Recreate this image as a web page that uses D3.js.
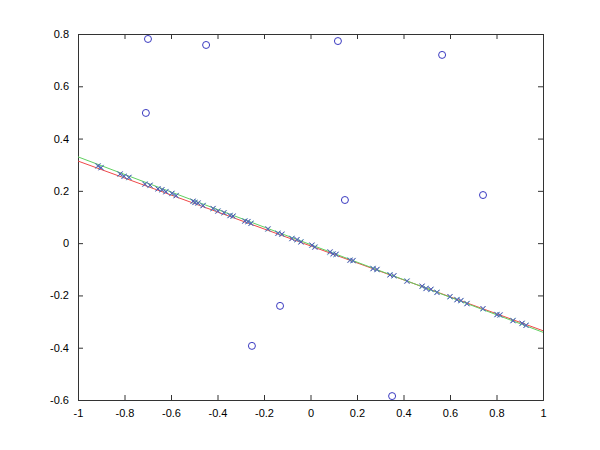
<!DOCTYPE html>
<head>
<meta charset="utf-8">
<script src="https://d3js.org/d3.v7.min.js"></script>
<style>
body { margin: 0; background: #fff; }
.axis text { font-family: "Liberation Sans", Arial, sans-serif; font-size: 11px; fill: #000; }
.axis path, .axis line { stroke: #333; stroke-width: 1; }
</style>
</head>
<body>
<script>
// tick labels
var xTicks = [-1, -0.8, -0.6, -0.4, -0.2, 0, 0.2, 0.4, 0.6, 0.8, 1];
var yTicks = [-0.6, -0.4, -0.2, 0, 0.2, 0.4, 0.6, 0.8];

// outliers (blue circles)
var outX = [-0.699, -0.708, -0.449, 0.118, 0.566, 0.148, 0.742, -0.131, -0.252, 0.351];
var outY = [0.781, 0.498, 0.758, 0.773, 0.720, 0.165, 0.184, -0.240, -0.393, -0.585];

// inliers along the line
var inX = [-0.914, -0.901, -0.819, -0.802, -0.781, -0.712, -0.690, -0.656, -0.639, -0.622,
           -0.596, -0.578, -0.505, -0.497, -0.484, -0.462, -0.419, -0.398, -0.372, -0.346,
           -0.333, -0.282, -0.269, -0.256, -0.183, -0.140, -0.123, -0.080, -0.058, -0.041,
           0.006, 0.019, 0.084, 0.097, 0.110, 0.170, 0.183, 0.269, 0.286, 0.342,
           0.359, 0.415, 0.480, 0.497, 0.518, 0.544, 0.600, 0.630, 0.647, 0.673,
           0.742, 0.802, 0.815, 0.871, 0.910, 0.927];
var inY = [0.296, 0.288, 0.265, 0.255, 0.252, 0.225, 0.222, 0.207, 0.205, 0.196,
           0.191, 0.181, 0.161, 0.155, 0.154, 0.143, 0.133, 0.122, 0.117, 0.105,
           0.104, 0.084, 0.083, 0.075, 0.055, 0.037, 0.035, 0.017, 0.014, 0.004,
           -0.007, -0.016, -0.033, -0.042, -0.042, -0.066, -0.066, -0.098, -0.100, -0.122,
           -0.124, -0.146, -0.164, -0.174, -0.176, -0.189, -0.204, -0.217, -0.219, -0.232,
           -0.250, -0.274, -0.274, -0.297, -0.306, -0.315];
// projected points on the fit
var fitY = [0.294, 0.290, 0.263, 0.257, 0.250, 0.227, 0.220, 0.209, 0.203, 0.198,
            0.189, 0.183, 0.159, 0.157, 0.152, 0.145, 0.131, 0.124, 0.115, 0.107,
            0.102, 0.086, 0.081, 0.077, 0.053, 0.039, 0.033, 0.019, 0.012, 0.006,
            -0.009, -0.014, -0.035, -0.040, -0.044, -0.064, -0.068, -0.096, -0.102, -0.120,
            -0.126, -0.144, -0.166, -0.172, -0.178, -0.187, -0.206, -0.215, -0.221, -0.230,
            -0.252, -0.272, -0.276, -0.295, -0.308, -0.313];

// fitted lines, endpoints at x = -1 and x = 1
var redLine = [[-1, 0.314], [1, -0.335]];
var greenLine = [[-1, 0.330], [1, -0.341]];

var margin = {top: 34, right: 57, bottom: 50, left: 78};
var width = 600 - margin.left - margin.right;
var height = 450 - margin.top - margin.bottom;

var svg = d3.select("body").append("svg")
    .attr("width", 600)
    .attr("height", 450)
    .append("g")
    .attr("transform", "translate(" + margin.left + "," + margin.top + ")");

var x = d3.scaleLinear().domain([-1, 1]).range([0, width]);
var y = d3.scaleLinear().domain([-0.6, 0.8]).range([height, 0]);

var fmt = function(d) { return String(+d.toFixed(1)); };

svg.append("g")
    .attr("class", "axis")
    .attr("transform", "translate(0," + height + ")")
    .call(d3.axisBottom(x).tickValues(xTicks).tickSize(-5).tickPadding(9).tickFormat(fmt));
svg.append("g")
    .attr("class", "axis")
    .call(d3.axisTop(x).tickValues(xTicks).tickSize(-5).tickFormat(""));
svg.append("g")
    .attr("class", "axis")
    .call(d3.axisLeft(y).tickValues(yTicks).tickSize(-5).tickPadding(9).tickFormat(fmt));
svg.append("g")
    .attr("class", "axis")
    .attr("transform", "translate(" + width + ",0)")
    .call(d3.axisRight(y).tickValues(yTicks).tickSize(-5).tickFormat(""));

var line = d3.line()
    .x(function(d) { return x(d[0]); })
    .y(function(d) { return y(d[1]); });

svg.append("path").datum(redLine)
    .attr("d", line).attr("fill", "none").attr("stroke", "#f04848").attr("stroke-width", 1);
svg.append("path").datum(greenLine)
    .attr("d", line).attr("fill", "none").attr("stroke", "#60d060").attr("stroke-width", 1);

function cross(sel, color) {
    sel.append("path")
        .attr("d", "M-2.5,-2.5L2.5,2.5M-2.5,2.5L2.5,-2.5")
        .attr("stroke", color)
        .attr("stroke-width", 1)
        .attr("fill", "none");
}

var fitPts = inX.map(function(d, i) { return [d, fitY[i]]; });
svg.selectAll(".fit").data(fitPts).enter().append("g")
    .attr("class", "fit")
    .attr("transform", function(d) { return "translate(" + x(d[0]) + "," + y(d[1]) + ")"; })
    .call(cross, "#60b0b8");

var inPts = inX.map(function(d, i) { return [d, inY[i]]; });
svg.selectAll(".inl").data(inPts).enter().append("g")
    .attr("class", "inl")
    .attr("transform", function(d) { return "translate(" + x(d[0]) + "," + y(d[1]) + ")"; })
    .call(cross, "#5858b8");

var outPts = outX.map(function(d, i) { return [d, outY[i]]; });
svg.selectAll(".out").data(outPts).enter().append("circle")
    .attr("class", "out")
    .attr("cx", function(d) { return x(d[0]); })
    .attr("cy", function(d) { return y(d[1]); })
    .attr("r", 3.5)
    .attr("fill", "none")
    .attr("stroke", "#3838c0")
    .attr("stroke-width", 1);
</script>
</body>
